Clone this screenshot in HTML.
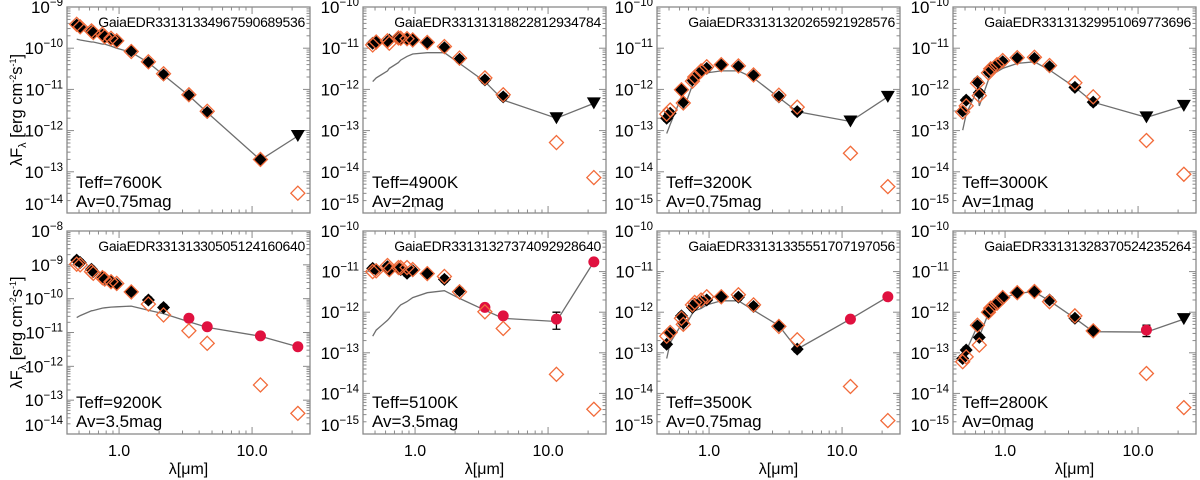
<!DOCTYPE html>
<html><head><meta charset="utf-8">
<style>
html,body{margin:0;padding:0;background:#fff;}
svg{display:block;font-family:"Liberation Sans",Arial,sans-serif;}
</style></head>
<body>
<svg id="chart" width="1200" height="480" viewBox="0 0 1200 480" xmlns="http://www.w3.org/2000/svg"></svg>
<script>
// ---- data ----
const waves = [0.48,0.51,0.62,0.64,0.75,0.78,0.87,0.96,1.235,1.662,2.159,3.35,4.6,11.56,22.09];
const panelNames = ["GaiaEDR33131334967590689536","GaiaEDR33131318822812934784","GaiaEDR33131320265921928576","GaiaEDR33131329951069773696",
  "GaiaEDR33131330505124160640","GaiaEDR33131327374092928640","GaiaEDR33131335551707197056","GaiaEDR33131328370524235264"];
const teffs = ["7600","4900","3200","3000","9200","5100","3500","2800"];
const avs = ["0.75","2","0.75","1","3.5","3.5","0.75","0"];
const yTop = [-9,-10,-10,-10,-8,-10,-10,-10];
const yBot = [-14,-15,-15,-15,-14,-15,-15,-15];
const xTickValues = [1,10];
const xTickLabels = ["1.0","10.0"];

const obs1 = [-9.44,-9.5,-9.6,-9.62,-9.68,-9.72,-9.78,-9.83,-10.06,-10.35,-10.65,-11.15,-11.56,-12.71,-12.13];
const kind1 = ["b","b","b","b","b","b","b","b","b","b","b","b","b","b","v"];
const dered1 = [-9.42,-9.48,-9.58,-9.62,-9.66,-9.72,-9.76,-9.82,-10.08,-10.33,-10.62,-11.13,-11.53,-12.70,-13.52];
const model1 = [-9.78,-9.8,-9.85,-9.85,-9.9,-9.9,-9.95,-10.0,-10.1,-10.35,-10.65,-11.15,-11.56,-12.71,-12.13];

const obs2 = [-10.88,-10.86,-10.85,-10.8,-10.76,-10.78,-10.78,-10.8,-10.87,-10.99,-11.27,-11.77,-12.18,-12.7,-12.34];
const kind2 = ["b","b","b","b","b","b","b","b","b","b","b","b","b","v","v"];
const dered2 = [-10.92,-10.85,-10.82,-10.88,-10.75,-10.76,-10.77,-10.8,-10.86,-10.96,-11.24,-11.72,-12.13,-13.29,-14.14];
const model2 = [-11.81,-11.72,-11.55,-11.49,-11.35,-11.29,-11.2,-11.14,-11.11,-11.11,-11.37,-11.81,-12.26,-12.7,-12.34];

const obs3 = [-12.70,-12.58,-12.01,-12.30,-11.77,-11.72,-11.57,-11.49,-11.41,-11.45,-11.67,-12.18,-12.54,-12.78,-12.18];
const kind3 = ["b","b","b","b","b","b","b","b","b","b","b","b","b","v","v"];
const dered3 = [-12.6,-12.5,-12.01,-12.33,-11.8,-11.7,-11.55,-11.45,-11.4,-11.43,-11.65,-12.14,-12.43,-13.55,-14.36];
const model3 = [-13.07,-12.85,-12.18,-12.5,-11.9,-11.8,-11.65,-11.6,-11.55,-11.55,-11.72,-12.2,-12.54,-12.78,-12.18];

const obs4 = [-12.52,-12.26,-11.81,-12.08,-11.57,-11.5,-11.41,-11.33,-11.25,-11.25,-11.45,-11.95,-12.31,-12.68,-12.4];
const kind4 = ["b","b","b","b","b","b","b","b","b","b","b","b","b","v","v"];
const dered4 = [-12.55,-12.4,-11.85,-12.15,-11.6,-11.5,-11.4,-11.3,-11.23,-11.22,-11.42,-11.84,-12.18,-13.24,-14.06];
const model4 = [-12.99,-12.6,-12.0,-12.4,-11.77,-11.65,-11.57,-11.49,-11.37,-11.33,-11.53,-11.95,-12.31,-12.68,-12.4];

const obs5 = [-8.86,-8.93,-9.13,-9.2,-9.35,-9.4,-9.5,-9.58,-9.79,-10.04,-10.26,-10.58,-10.83,-11.1,-11.42];
const kind5 = ["b","b","b","b","b","b","b","b","b","b","b","r","r","r","r"];
const dered5 = [-8.98,-9.0,-9.2,-9.25,-9.38,-9.42,-9.5,-9.55,-9.8,-10.16,-10.48,-10.95,-11.32,-12.55,-13.39];
const model5 = [-10.56,-10.5,-10.36,-10.35,-10.28,-10.27,-10.25,-10.24,-10.22,-10.34,-10.44,-10.68,-10.85,-11.11,-11.42];

const obs6 = [-10.92,-10.95,-10.88,-10.95,-10.92,-10.95,-11.04,-10.98,-11.04,-11.19,-11.47,-11.88,-12.09,-12.17,-10.76];
const kind6 = ["b","b","b","b","b","b","b","b","b","b","b","r","r","r","r"];
const dered6 = [-11.0,-10.98,-10.85,-10.95,-10.9,-10.9,-10.9,-10.95,-11.05,-11.12,-11.5,-11.99,-12.4,-13.53,-14.39];
const model6 = [-12.59,-12.44,-12.2,-12.15,-11.88,-11.82,-11.74,-11.64,-11.52,-11.47,-11.66,-11.95,-12.15,-12.23,-10.76];

const obs7 = [-12.79,-12.52,-12.09,-12.26,-11.88,-11.8,-11.74,-11.7,-11.62,-11.63,-11.86,-12.33,-12.91,-12.17,-11.62];
const kind7 = ["b","b","b","b","b","b","b","b","b","b","b","b","b","r","r"];
const dered7 = [-12.59,-12.5,-12.15,-12.3,-11.82,-11.76,-11.7,-11.62,-11.62,-11.57,-11.82,-12.35,-12.68,-13.83,-14.67];
const model7 = [-13.14,-12.75,-12.3,-12.42,-12.03,-11.96,-11.91,-11.82,-11.72,-11.72,-11.95,-12.33,-12.91,-12.17,-11.62];

const obs8 = [-13.14,-12.93,-12.34,-12.62,-12.0,-11.9,-11.78,-11.64,-11.52,-11.5,-11.7,-12.15,-12.46,-12.44,-12.17];
const kind8 = ["b","b","b","b","b","b","b","b","b","b","b","b","b","r","v"];
const dered8 = [-13.22,-13.1,-12.32,-12.81,-12.0,-11.9,-11.78,-11.64,-11.52,-11.49,-11.74,-12.09,-12.46,-13.51,-14.35];
const model8 = [-13.2,-12.95,-12.34,-12.6,-12.03,-11.92,-11.8,-11.66,-11.53,-11.5,-11.72,-12.15,-12.48,-12.49,-12.17];

const errBand = [null,null,null,null,null,13,null,13];
const errLo = [null,null,null,null,null,-12.42,null,-12.6];
const errHi = [null,null,null,null,null,-12.0,null,-12.32];

const allObs=[obs1,obs2,obs3,obs4,obs5,obs6,obs7,obs8];
const allKind=[kind1,kind2,kind3,kind4,kind5,kind6,kind7,kind8];
const allDered=[dered1,dered2,dered3,dered4,dered5,dered6,dered7,dered8];
const allModel=[model1,model2,model3,model4,model5,model6,model7,model8];

// ---- drawing ----
const svg=document.getElementById('chart');
const NS='http://www.w3.org/2000/svg';
function mk(tag,attrs,parent){const e=document.createElementNS(NS,tag);for(const k in attrs)e.setAttribute(k,attrs[k]);(parent||svg).appendChild(e);return e;}
const lefts=[67,363,657,953], PW=243;
const tops=[7,231], PH=[206,203];
const XMIN=Math.log10(0.406), XMAX=XMIN+PW/133;

for(let p=0;p<8;p++){
  const col=p%4,row=Math.floor(p/4);
  const L=lefts[col],T=tops[row],H=PH[row],R=L+PW,B=T+H;
  const g=mk('g',{});
  
  
  const sx=w=>L+(Math.log10(w)-XMIN)/(XMAX-XMIN)*PW;
  const sy=v=>T+(yTop[p]-v)/(yTop[p]-yBot[p])*H;
  const clip='clip'+p;
  const cp=mk('clipPath',{id:clip},g); mk('rect',{x:L,y:T,width:PW,height:H},cp);
  const fr=mk('rect',{x:L,y:T,width:PW,height:H,fill:'none',stroke:'#8a8a8a','stroke-width':1.3},g);
  
  
  const xt=[];
  for(let d=-1;d<=1;d++)for(let m=1;m<10;m++){const w=m*Math.pow(10,d);const lx=Math.log10(w);if(lx>=XMIN&&lx<=XMAX)xt.push([w,m===1]);}
  xt.forEach(([w,maj])=>{const x=sx(w),len=maj?7:3.5;
    mk('line',{x1:x,y1:B,x2:x,y2:B-len,stroke:'#8a8a8a','stroke-width':1},g);
    mk('line',{x1:x,y1:T,x2:x,y2:T+len,stroke:'#8a8a8a','stroke-width':1},g);});
  for(let e=yBot[p];e<yTop[p];e++){for(let m=1;m<10;m++){const v=e+Math.log10(m);const y=sy(v);const len=m===1?7:3.5;
    mk('line',{x1:L,y1:y,x2:L+len,y2:y,stroke:'#8a8a8a','stroke-width':1},g);
    mk('line',{x1:R,y1:y,x2:R-len,y2:y,stroke:'#8a8a8a','stroke-width':1},g);}}
  for(let e=yBot[p];e<=yTop[p];e++){let y=sy(e);if(e===yBot[p])y=B-9;
    const t=mk('text',{x:L-4,y:y+6,'text-anchor':'end','font-size':17,fill:'#000'},g);
    
    
    const a=mk('tspan',{},t);a.textContent='10';
    const b=mk('tspan',{dy:-7,'font-size':11.5},t);b.textContent='\u2212'+Math.abs(e);}
  if(row===1){
    xTickValues.forEach((w,i)=>{const t=mk('text',{x:sx(w),y:456,'text-anchor':'middle','font-size':16},g);
      
      
      t.textContent=xTickLabels[i];});
    const xt2=mk('text',{x:L+PW/2,y:474,'text-anchor':'middle','font-size':16},g);
    
    
    xt2.textContent='λ[μm]';
  }
  if(col===0){
    const cy=T+H/2;
    const yt=mk('text',{x:0,y:0,transform:`translate(22,${cy}) rotate(-90)`,'text-anchor':'middle','font-size':16.5},g);
    
    
    yt.innerHTML='λF<tspan font-size="11" dy="4">λ</tspan><tspan dy="-4"> [erg cm</tspan><tspan font-size="9" dy="-6">-2</tspan><tspan dy="6">s</tspan><tspan font-size="9" dy="-6">-1</tspan><tspan dy="6">]</tspan>';
  }
  const nm=mk('text',{x:R-5,y:T+20,'text-anchor':'end','font-size':14,'letter-spacing':'-0.3'},g);
  
  
  nm.textContent=panelNames[p];
  const t1=mk('text',{x:L+9,y:(row?T+177:T+181),'font-size':17},g);
  
  
  t1.textContent='Teff='+teffs[p]+'K';
  const t2=mk('text',{x:L+9,y:(row?T+196:T+200),'font-size':17},g);
  
  
  t2.textContent='Av='+avs[p]+'mag';
  const dg=mk('g',{'clip-path':`url(#${clip})`},g);
  const model=allModel[p];
  const pts=waves.map((w,i)=>sx(w).toFixed(1)+','+sy(model[i]).toFixed(1)).join(' ');
  const ln=mk('polyline',{points:pts,fill:'none',stroke:'#6e6e6e','stroke-width':1.3},dg);
  
  
  const obs=allObs[p],kind=allKind[p],der=allDered[p];
  if(errBand[p]!==null){const x=sx(waves[errBand[p]]),y1=sy(errLo[p]),y2=sy(errHi[p]);
    const eb=mk('path',{d:`M${x},${y1}V${y2}M${x-4},${y1}H${x+4}M${x-4},${y2}H${x+4}`,stroke:'#000','stroke-width':1.3,fill:'none'},dg);
    
    }
  waves.forEach((w,i)=>{const x=sx(w),y=sy(obs[i]);let m;
    if(kind[i]==='v'){m=mk('path',{d:`M${x-7},${y-6}L${x+7},${y-6}L${x},${y+6}Z`,fill:'#000'},dg);
      }
    else if(kind[i]==='r'){m=mk('circle',{cx:x,cy:y,r:5.5,fill:'#e0113f'},dg);
      }
    else {m=mk('path',{d:`M${x},${y-6.5}L${x+6.5},${y}L${x},${y+6.5}L${x-6.5},${y}Z`,fill:'#000'},dg);
      mk('circle',{cx:x,cy:y,r:4.8,fill:'#000'},dg);
      }
    });
  waves.forEach((w,i)=>{const x=sx(w),y=sy(der[i]);const s=7;
    const d=mk('path',{d:`M${x},${y-s}L${x+s},${y}L${x},${y+s}L${x-s},${y}Z`,fill:'none',stroke:'#f26b3a','stroke-width':1.3},dg);
    
    });
}
</script>
</body></html>
